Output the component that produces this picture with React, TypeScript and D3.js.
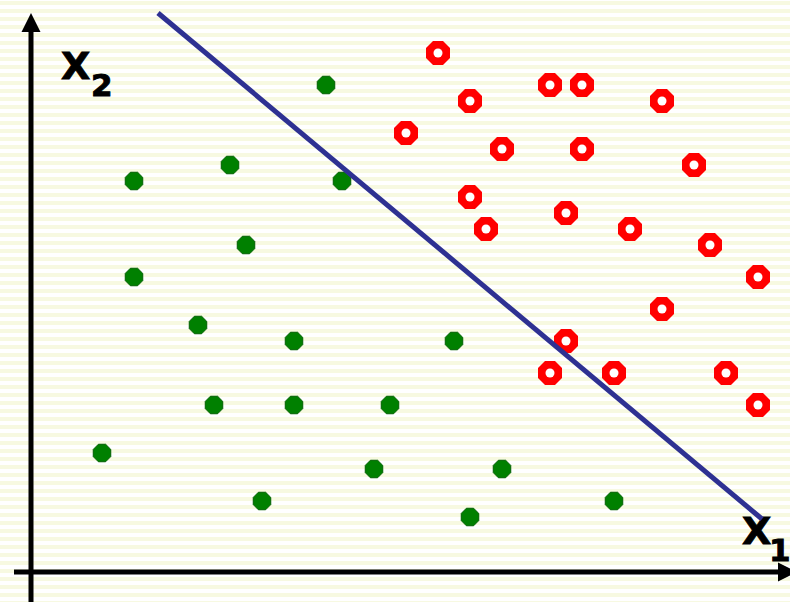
import React from "react";
import * as d3 from "d3";

// Grid-unit data (x to the right, y upward)
const greenX = [20, 14, 8, 21, 15, 8, 12, 18, 28, 13, 18, 24, 6, 23, 31, 16, 38, 29];
const greenY = [30, 25, 24, 24, 20, 18, 15, 14, 14, 10, 10, 10, 7, 6, 6, 4, 4, 3];

const redX = [27, 29, 34, 36, 41, 25, 31, 36, 43, 29, 35, 30, 39, 44, 47, 41, 35, 34, 38, 45, 47];
const redY = [32, 29, 30, 30, 29, 27, 26, 26, 25, 23, 22, 21, 21, 20, 18, 16, 14, 12, 12, 12, 10];

const boundaryX = [9.5, 47.25];
const boundaryY = [34.5, 2.875];

const axisLabels = [
  { main: "X", sub: "2" },
  { main: "X", sub: "1" },
];

const W = 790;
const H = 602;

function octagon(cx: number, cy: number, flat: number): string {
  const R = flat / 2 / Math.cos(Math.PI / 8);
  const pts: [number, number][] = d3.range(8).map((k) => {
    const a = Math.PI / 8 + (k * Math.PI) / 4;
    return [cx + R * Math.cos(a), cy + R * Math.sin(a)];
  });
  return (d3.line()(pts) || "") + "Z";
}

export default function App() {
  const x = d3.scaleLinear().domain([0, 49]).range([6, 790]);
  const y = d3.scaleLinear().domain([0, 35]).range([565, 5]);

  const green = greenX.map((v, i) => [x(v), y(greenY[i])]);
  const red = redX.map((v, i) => [x(v), y(redY[i])]);
  const linePath = d3.line()(boundaryX.map((v, i) => [x(v), y(boundaryY[i])] as [number, number])) || "";

  const fontFam = "'DejaVu Sans', Verdana, sans-serif";
  const txt = { fontFamily: fontFam, fontWeight: "bold" as const, fill: "#000", stroke: "#000", strokeWidth: 0.9 };

  return (
    <svg width={W} height={H} style={{ position: "absolute", left: 0, top: 0, display: "block" }}>
      <defs>
        <pattern id="stripes" width={8} height={8} patternUnits="userSpaceOnUse">
          <rect width={8} height={8} fill="#ffffff" />
          <rect y={1} width={8} height={4} fill="#f7f9e1" />
        </pattern>
      </defs>
      <rect width={W} height={H} fill="url(#stripes)" />

      {/* axes */}
      <line x1={31} y1={30} x2={31} y2={H} stroke="#000" strokeWidth={5} />
      <path d="M31,13 L21.5,32 L40.5,32 Z" fill="#000" />
      <line x1={14} y1={572} x2={781} y2={572} stroke="#000" strokeWidth={5} />
      <path d="M797,572 L778,562.5 L778,581.5 Z" fill="#000" />

      {/* labels */}
      <text x={61} y={79} fontSize={38} {...txt}>
        {axisLabels[0].main}
      </text>
      <text x={91} y={96} fontSize={31} {...txt}>
        {axisLabels[0].sub}
      </text>
      <text x={742} y={544} fontSize={38} {...txt}>
        {axisLabels[1].main}
      </text>
      <text x={769} y={561} fontSize={31} {...txt}>
        {axisLabels[1].sub}
      </text>

      {/* points */}
      {green.map(([cx, cy], i) => (
        <path key={"g" + i} d={octagon(cx, cy, 17.5)} fill="#008000" stroke="#005f00" strokeWidth={1} />
      ))}
      {red.map(([cx, cy], i) => (
        <g key={"r" + i}>
          <path d={octagon(cx, cy, 24)} fill="#ff0000" />
          <circle cx={cx} cy={cy} r={4.5} fill="#ffffff" />
        </g>
      ))}

      {/* decision boundary */}
      <path d={linePath} stroke="#2e3192" strokeWidth={5} fill="none" />
    </svg>
  );
}
